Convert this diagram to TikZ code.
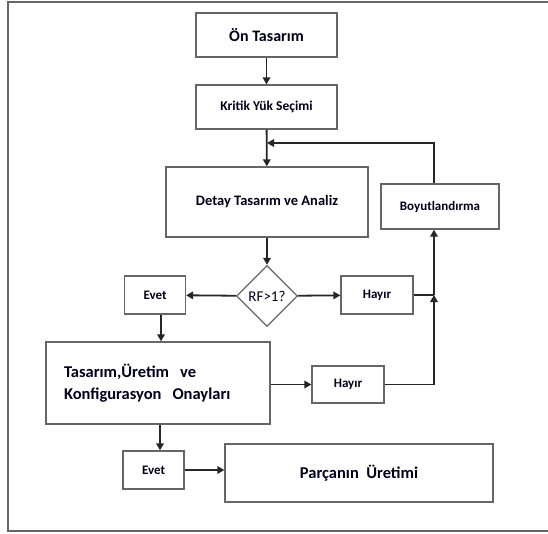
\documentclass[tikz,border=0pt]{standalone}
\usepackage{fontspec}
\setmainfont{Carlito}
\usetikzlibrary{shapes.geometric,arrows.meta}
\begin{document}
\begin{tikzpicture}[x=1pt,y=-1pt,
 box/.style={draw=black!60, line width=1.3pt, fill=white, inner sep=0pt, font=\bfseries, text=black!90!blue},
 arr/.style={draw=black!85, line width=1.8pt, -{Triangle[length=7pt,width=7.5pt]}},
 ln/.style={draw=black!85, line width=1.8pt}]
\useasboundingbox (0,0) rectangle (548,533);
\draw[draw=black!60, line width=1.2pt] (8,2) rectangle (570,531);

\node[box, minimum width=141pt, minimum height=44pt, font=\bfseries\fontsize{16}{18}\selectfont] (on) at (266.5,35) {Ön Tasarım};
\node[box, minimum width=141pt, minimum height=44pt, font=\bfseries\fontsize{13.5}{16}\selectfont] (kritik) at (266.5,107) {Kritik Yük Seçimi};
\node[box, minimum width=202pt, minimum height=70pt, font=\bfseries\fontsize{14.5}{16}\selectfont] (detay) at (267,202) {Detay Tasarım ve Analiz};
\node[box, minimum width=118pt, minimum height=45pt, font=\bfseries\fontsize{13}{15}\selectfont] (boy) at (440,206.5) {Boyutlandırma};
\node[box, diamond, aspect=1, minimum width=61pt, minimum height=61pt, font=\fontsize{15}{17}\selectfont] (rf) at (267,296) {RF>1?};
\node[box, minimum width=61pt, minimum height=38pt, font=\bfseries\fontsize{13}{15}\selectfont] (evet1) at (155,295) {Evet};
\node[box, minimum width=72pt, minimum height=38pt, font=\bfseries\fontsize{13}{15}\selectfont] (hayir1) at (377,295) {Hayır};
\node[box, minimum width=224pt, minimum height=82pt, inner xsep=18pt, text width=188pt, align=left, font=\bfseries\fontsize{16.5}{22}\selectfont] (tas) at (158,383) {Tasarım,Üretim\ \ ve\\Konfigurasyon\ \ Onayları};
\node[box, minimum width=72pt, minimum height=37pt, font=\bfseries\fontsize{13}{15}\selectfont] (hayir2) at (348,384.5) {Hayır};
\node[box, minimum width=61pt, minimum height=38pt, font=\bfseries\fontsize{13}{15}\selectfont] (evet2) at (153.5,470) {Evet};
\node[box, minimum width=268pt, minimum height=58pt, font=\bfseries\fontsize{16.5}{18}\selectfont] (parca) at (359,473) {Parçanın\ \ Üretimi};

\coordinate (j) at (434,295);
\coordinate (fb) at (267,143);

\draw[arr] (on) -- (kritik);
\draw[arr] (kritik) -- (detay);
\draw[arr] (boy.north -| j) |- (fb);
\draw[arr] (detay) -- (rf);
\draw[arr] (rf) -- (evet1);
\draw[arr] (rf) -- (hayir1);
\draw[ln] (hayir1) -- (j);
\draw[arr] (j) -- (j |- boy.south);
\draw[arr] (hayir2.east) -| (j);
\draw[arr] ([xshift=6pt]evet1.south) -- ([xshift=6pt]evet1.south |- tas.north);
\draw[arr] (tas.east |- hayir2) -- (hayir2);
\draw[arr] ([xshift=2pt]tas.south) -- ([xshift=2pt]tas.south |- evet2.north);
\draw[arr] (evet2) -- (parca.west |- evet2);
\end{tikzpicture}
\end{document}
